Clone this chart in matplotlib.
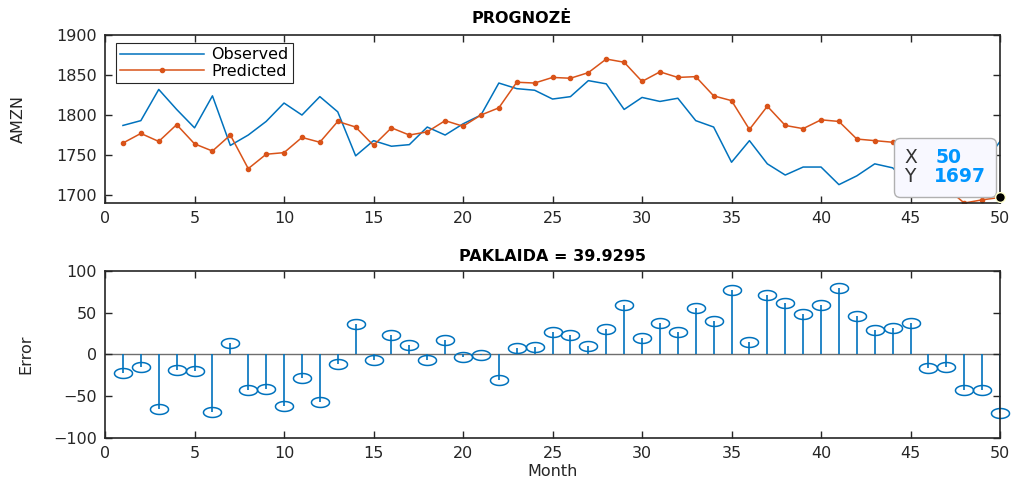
import numpy as np
import matplotlib
matplotlib.use("Agg")
import matplotlib.pyplot as plt
from matplotlib.path import Path
from matplotlib.offsetbox import TextArea, HPacker, VPacker, AnnotationBbox

# data
months = list(range(1, 51))
observed = [1787, 1793, 1832, 1807, 1784, 1824, 1762, 1775, 1792, 1815,
            1800, 1823, 1804, 1749, 1768, 1761, 1763, 1785, 1775, 1789,
            1800, 1840, 1833, 1831, 1820, 1823, 1843, 1839, 1807, 1822,
            1817, 1821, 1793, 1785, 1741, 1768, 1739, 1725, 1735, 1735,
            1713, 1724, 1739, 1734, 1713, 1738, 1725, 1732, 1736, 1767]
predicted = [1765, 1777, 1767, 1788, 1764, 1755, 1775, 1733, 1751, 1753,
             1772, 1766, 1792, 1785, 1762, 1784, 1775, 1779, 1793, 1786,
             1800, 1809, 1841, 1840, 1847, 1846, 1853, 1870, 1866, 1842,
             1854, 1847, 1848, 1824, 1818, 1782, 1811, 1787, 1783, 1794,
             1792, 1770, 1768, 1766, 1750, 1722, 1709, 1690, 1694, 1697]
error = [-22, -15.5, -65.5, -18.7, -20.2, -69, 13.4, -42, -41, -62,
         -28.6, -56.8, -11.9, 36, -6.4, 23, 11.9, -6.4, 17.8, -2.8,
         -0.5, -30.6, 8.3, 8.7, 26.5, 23.4, 9.9, 30.9, 59, 20.2,
         37.3, 26.5, 55.1, 39.5, 77.7, 15, 71.8, 61.9, 48, 59,
         80.1, 45.6, 28.9, 32.1, 37.3, -16.3, -15.5, -42.1, -42.1, -70.2]
top_title = "PROGNOZĖ"
bottom_title = "PAKLAIDA = 39.9295"

BLUE = "#0072BD"
ORANGE = "#D95319"
AXC = "#262626"

plt.rcParams['font.family'] = ['DejaVu Sans']
plt.rcParams['font.size'] = 11

fig = plt.figure(figsize=(10.13, 4.8), dpi=100)
ax1 = fig.add_axes([0.1037, 0.577, 0.8835, 0.35])
ax2 = fig.add_axes([0.1037, 0.0875, 0.8835, 0.348])


def style(ax):
    for s in ax.spines.values():
        s.set_color(AXC)
        s.set_linewidth(1.2)
    ax.tick_params(direction='in', length=5, width=1.0, color=AXC,
                   top=True, right=True, labelsize=11.5, labelcolor=AXC, pad=6)
    ax.set_xlim(0, 50)
    ax.set_xticks(range(0, 51, 5))


# top: observed vs predicted
ax1.plot(months, observed, color=BLUE, lw=1.1, label='Observed')
ax1.plot(months, predicted, color=ORANGE, lw=1.1, marker='o', ms=3.0,
         label='Predicted')
style(ax1)
ax1.set_ylim(1690, 1900)
ax1.set_yticks(range(1700, 1901, 50))
ax1.set_ylabel('AMZN', color=AXC, labelpad=22, fontsize=11.5)
ax1.set_title(top_title, fontweight='bold', fontsize=11.5, x=0.465, pad=9)
leg = ax1.legend(loc='upper left', bbox_to_anchor=(0.012, 0.95),
                 borderaxespad=0, handlelength=5.3, fancybox=False,
                 framealpha=1, edgecolor=AXC, borderpad=0.25,
                 labelspacing=0.1, handletextpad=0.45, fontsize=11.5)
leg.get_frame().set_linewidth(0.8)

# data tip on the last predicted point
ax1.plot(months[-1], predicted[-1], 'o', color='black', ms=7,
         markeredgecolor='#FFFFCC', mew=1.0, clip_on=False, zorder=6)
row_x = HPacker(children=[
    TextArea('X', textprops=dict(color='#333333', size=13.5)),
    TextArea(f'{months[-1]}', textprops=dict(color='#0096FF', size=13.5,
                                             weight='bold'))],
    align='baseline', pad=0, sep=13)
row_y = HPacker(children=[
    TextArea('Y', textprops=dict(color='#333333', size=13.5)),
    TextArea(f'{predicted[-1]:.0f}', textprops=dict(color='#0096FF', size=13.5,
                                                    weight='bold'))],
    align='baseline', pad=0, sep=13)
tip = VPacker(children=[row_x, row_y], align='left', pad=0, sep=0)
ab = AnnotationBbox(tip, (months[-1], predicted[-1]), xycoords='data',
                    xybox=(0.984, 0.10), boxcoords='axes fraction',
                    box_alignment=(1, 0), frameon=True,
                    bboxprops=dict(boxstyle='round,pad=0.7,rounding_size=0.4',
                                   facecolor='#F8F8FF', edgecolor='#B0B0B0',
                                   lw=1.0), zorder=5)
ax1.add_artist(ab)

# bottom: error stems
ax2.axhline(0, color='#6E6E6E', lw=1.0, zorder=1)
t = np.linspace(0, 2 * np.pi, 60)
ellipse = Path(np.column_stack([np.cos(t), 0.55 * np.sin(t)]))
markerline, stemlines, baseline = ax2.stem(months, error)
baseline.set_visible(False)
stemlines.set_color(BLUE)
stemlines.set_linewidth(1.2)
markerline.set_marker(ellipse)
markerline.set_markersize(13)
markerline.set_markerfacecolor('none')
markerline.set_markeredgecolor(BLUE)
markerline.set_markeredgewidth(1.1)
markerline.set_clip_on(False)
style(ax2)
ax2.set_ylim(-100, 100)
ax2.set_yticks(range(-100, 101, 50))
ax2.set_ylabel('Error', color=AXC, labelpad=14, fontsize=11.5)
ax2.set_xlabel('Month', color=AXC, labelpad=2, fontsize=11.5)
ax2.set_title(bottom_title, fontweight='bold', fontsize=11.5, pad=7)

fig.savefig('out.png', dpi=100)
